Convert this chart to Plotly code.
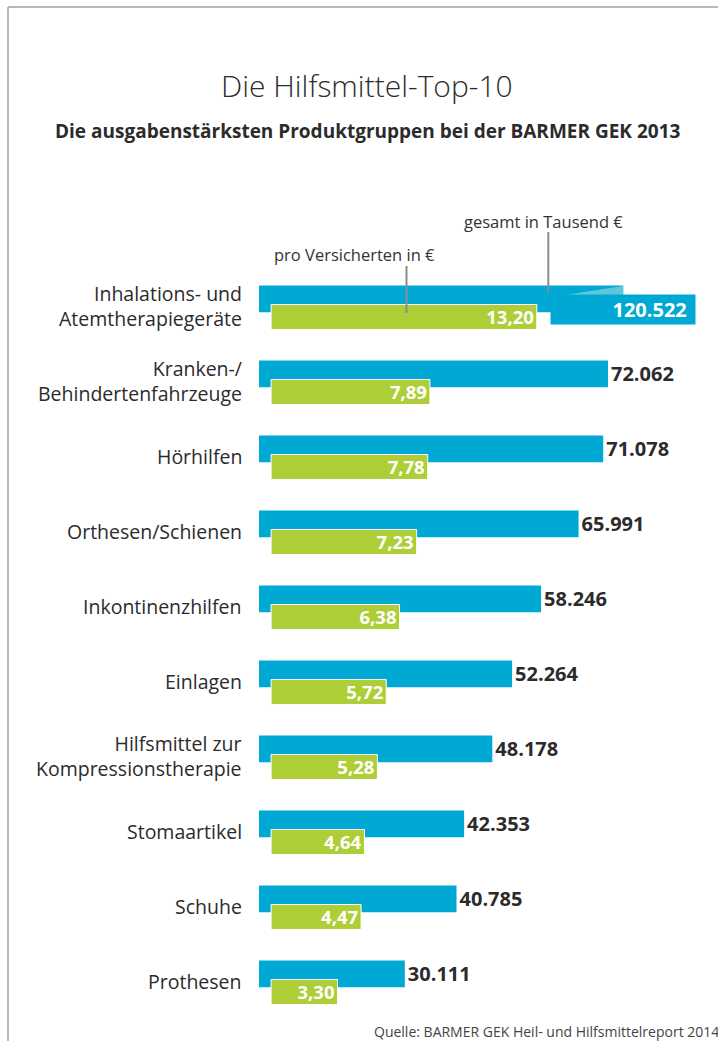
import plotly.graph_objects as go

# Daten (BARMER GEK 2013)
kategorien = [
    "Inhalations- und<br>Atemtherapiegeräte",
    "Kranken-/<br>Behindertenfahrzeuge",
    "Hörhilfen",
    "Orthesen/Schienen",
    "Inkontinenzhilfen",
    "Einlagen",
    "Hilfsmittel zur<br>Kompressionstherapie",
    "Stomaartikel",
    "Schuhe",
    "Prothesen",
]
gesamt_tsd = [120522, 72062, 71078, 65991, 58246, 52264, 48178, 42353, 40785, 30111]
pro_versicherten = [13.20, 7.89, 7.78, 7.23, 6.38, 5.72, 5.28, 4.64, 4.47, 3.30]

BREAK_AT = 75200  # langer Balken wird hier "abgeknickt"

BLUE = "#00A9D3"
GREEN = "#AECE38"
TXT = "#2b2b2b"
FONT = "Open Sans"

W, H = 718, 1041
ML = 259


def px(x):
    return (x - ML) / (W - ML)


def py(y):
    return 1 - y / H


def de_int(v):
    return f"{v:,}".replace(",", ".")


def de_dec(v):
    return f"{v:.2f}".replace(".", ",")


idx = list(range(len(kategorien)))
blau_anzeige = [min(v, BREAK_AT) for v in gesamt_tsd]
blau_text = ["" if v > BREAK_AT else de_int(v) for v in gesamt_tsd]

fig = go.Figure()

fig.add_trace(go.Bar(
    y=idx, x=blau_anzeige, orientation="h",
    width=0.356, offset=-0.293,
    marker=dict(color=BLUE, line=dict(width=0)),
    text=blau_text, textposition="outside",
    outsidetextfont=dict(family=FONT, size=20, color=TXT, weight="bold"),
    cliponaxis=False, hoverinfo="skip", xaxis="x", yaxis="y",
))

fig.add_trace(go.Bar(
    y=idx, x=pro_versicherten, orientation="h",
    width=0.333, offset=-0.04,
    marker=dict(color=GREEN, line=dict(width=1, color="white")),
    text=[de_dec(v) for v in pro_versicherten], textposition="inside",
    insidetextanchor="end",
    insidetextfont=dict(family=FONT, size=18.5, color="white", weight="bold"),
    cliponaxis=False, hoverinfo="skip", xaxis="x2", yaxis="y",
))

annotations = []
for i, k in enumerate(kategorien):
    annotations.append(dict(
        text=k, xref="paper", x=0, xshift=-15, xanchor="right",
        yref="y", y=i - 0.02, yanchor="middle", showarrow=False, align="right",
        font=dict(family=FONT, size=19.5, color=TXT),
    ))

# abgeknickter Balken: Wert in blauer Box
for i, v in enumerate(gesamt_tsd):
    if v > BREAK_AT:
        annotations.append(dict(
            text=de_int(v) + "&nbsp;", xref="x", x=BREAK_AT, xanchor="right", xshift=73,
            yref="y", y=i + 0.02, yanchor="middle", showarrow=False, align="right",
            width=138, height=23, borderpad=3, bgcolor=BLUE,
            font=dict(family=FONT, size=20, color="white", weight="bold"),
        ))

annotations += [
    dict(text="Die Hilfsmittel-Top-10", xref="paper", yref="paper",
         x=px(367), y=py(86), xanchor="center", yanchor="middle", showarrow=False,
         font=dict(family=FONT, size=30, color=TXT, weight=300)),
    dict(text="<b>Die ausgabenstärksten Produktgruppen bei der BARMER GEK 2013</b>",
         xref="paper", yref="paper", x=px(367), y=py(131), xanchor="center",
         yanchor="middle", showarrow=False,
         font=dict(family=FONT, size=19, color=TXT)),
    dict(text="pro Versicherten in €", xref="paper", yref="paper",
         x=px(272), y=py(255), xanchor="left", yanchor="middle", showarrow=False,
         font=dict(family=FONT, size=16.5, color="#333333")),
    dict(text="gesamt in Tausend €", xref="paper", yref="paper",
         x=px(462), y=py(221), xanchor="left", yanchor="middle", showarrow=False,
         font=dict(family=FONT, size=16.5, color="#333333")),
    dict(text="Quelle: BARMER GEK Heil- und Hilfsmittelreport 2014", xref="paper",
         yref="paper", x=px(372), y=py(1031), xanchor="left", yanchor="middle",
         showarrow=False, font=dict(family=FONT, size=14, color="#444444")),
]

shapes = [
    # Rahmen
    dict(type="line", xref="paper", yref="paper", x0=px(8), x1=px(720),
         y0=py(7), y1=py(7), line=dict(color="#a0a0a0", width=1.5)),
    dict(type="line", xref="paper", yref="paper", x0=px(8), x1=px(8),
         y0=py(7), y1=py(1045), line=dict(color="#a0a0a0", width=1.5)),
    # Hinweislinien
    dict(type="line", xref="paper", yref="paper", x0=px(406.5), x1=px(406.5),
         y0=py(266), y1=py(313), line=dict(color="#8c8c8c", width=2)),
    dict(type="line", xref="paper", yref="paper", x0=px(548.3), x1=px(548.3),
         y0=py(232), y1=py(293), line=dict(color="#8c8c8c", width=2)),
    # Knick-Effekt
    dict(type="path", xref="x", yref="y",
         path=f"M {BREAK_AT - 13400},-0.153 L {BREAK_AT},-0.287 L {BREAK_AT},-0.153 Z",
         fillcolor="#5fc7dc", line=dict(width=0)),
]

fig.update_layout(
    width=W, height=H,
    margin=dict(l=ML, r=0, t=0, b=0),
    paper_bgcolor="white", plot_bgcolor="white",
    barmode="overlay", showlegend=False,
    uniformtext=dict(minsize=18, mode="show"),
    xaxis=dict(range=[0, 94780], visible=False, fixedrange=True),
    xaxis2=dict(range=[-0.6, 22.2], overlaying="x", visible=False, fixedrange=True),
    yaxis=dict(range=[9.78, -4.1], visible=False, fixedrange=True),
    annotations=annotations, shapes=shapes,
)

# Seitenrand des Browsers entfernen, damit die Pixelpositionen stimmen
fig.write_html("out.html", config={"displayModeBar": False},
               post_script="document.body.style.margin='0';")
